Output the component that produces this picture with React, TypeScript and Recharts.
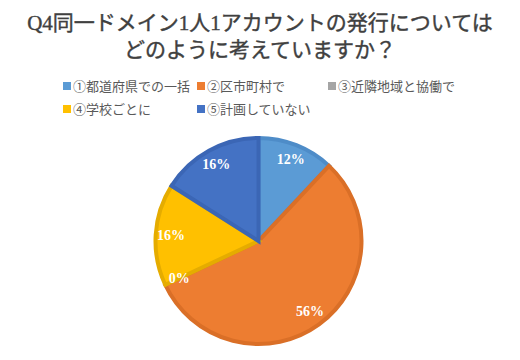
import { PieChart, Pie, Cell } from "recharts"

const categories = ["①都道府県での一括", "②区市町村で", "③近隣地域と協働で", "④学校ごとに", "⑤計画していない"]
const shares = [12, 56, 0, 16, 16]
const fills = ["#5B9BD5", "#ED7D31", "#A5A5A5", "#FFC000", "#4472C4"]
const borders = ["#4E8CC8", "#DA6F27", "#959595", "#E5AC00", "#3B66B5"]
const titleLines = ["Q4同一ドメイン1人1アカウントの発行については", "どのように考えていますか？"]

const data = categories.map((name, i) => ({ name, value: shares[i] }))

const RADIAN = Math.PI / 180

function renderLabel(props: any) {
  const { cx, cy, midAngle, outerRadius, value } = props
  const r = outerRadius * 0.85
  const x = cx + r * Math.cos(-midAngle * RADIAN)
  const y = cy + r * Math.sin(-midAngle * RADIAN)
  return (
    <text
      x={x}
      y={y}
      fill="#fff"
      textAnchor="middle"
      dominantBaseline="central"
      fontFamily="'Liberation Serif', 'DejaVu Serif', serif"
      fontWeight="bold"
      fontSize={14}
    >
      {`${value}%`}
    </text>
  )
}

function LegendGrid() {
  return (
    <div
      style={{
        position: "absolute",
        top: 77,
        left: 63,
        display: "grid",
        gridTemplateColumns: "134px 131px 134px",
        rowGap: 6,
        fontFamily: "'Noto Sans CJK JP', 'Noto Sans', sans-serif",
        fontSize: 13,
        color: "#595959",
        lineHeight: "17px",
      }}
    >
      {categories.map((c, i) => (
        <div key={c} style={{ display: "flex", alignItems: "center", whiteSpace: "nowrap" }}>
          <span style={{ width: 8, height: 8, background: fills[i], marginRight: 2, display: "inline-block" }} />
          {c}
        </div>
      ))}
    </div>
  )
}

export default function App() {
  return (
    <div style={{ position: "absolute", left: 0, top: 0, width: 520, height: 360, background: "#fff" }}>
      <div
        style={{
          position: "absolute",
          top: 10,
          left: 0,
          width: 520,
          textAlign: "center",
          fontFamily: "'Liberation Serif', 'DejaVu Serif', 'Noto Sans CJK JP', serif",
          fontSize: 21,
          lineHeight: "27px",
          color: "#404040",
          WebkitTextStroke: "0.4px #404040",
        }}
      >
        {titleLines.map((t) => (
          <div key={t}>{t}</div>
        ))}
      </div>
      <LegendGrid />
      <div style={{ position: "absolute", left: 0, top: 0 }}>
        <PieChart width={520} height={360} margin={{ top: 0, right: 0, bottom: 0, left: 0 }}>
          <Pie
            data={data}
            dataKey="value"
            nameKey="name"
            cx={258.5}
            cy={241}
            outerRadius={103}
            startAngle={90}
            endAngle={-270}
            label={renderLabel}
            labelLine={false}
            isAnimationActive={false}
          >
            {data.map((d, i) => (
              <Cell key={d.name} fill={fills[i]} stroke={borders[i]} strokeWidth={4} />
            ))}
          </Pie>
        </PieChart>
      </div>
    </div>
  )
}
